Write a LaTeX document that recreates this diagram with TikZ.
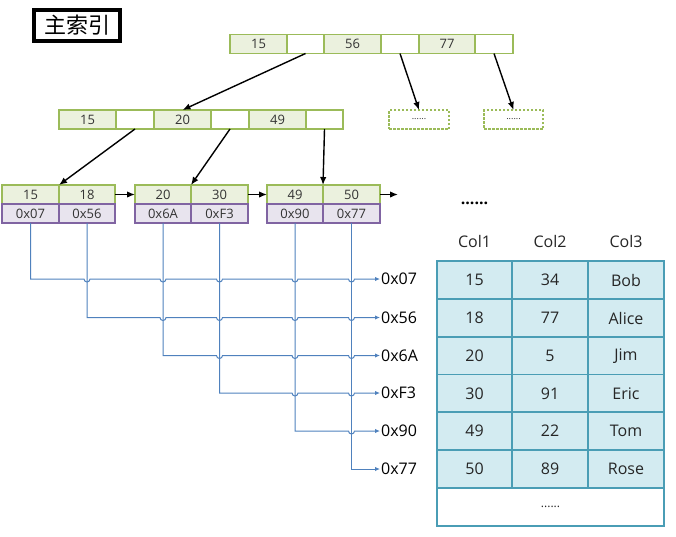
\documentclass[tikz,border=0pt]{standalone}
\usepackage{fontspec}
\setmainfont{Open Sans}
\newfontfamily\cjk{Noto Sans CJK SC}
\usetikzlibrary{arrows.meta}
\definecolor{gborder}{HTML}{9BBB59}
\definecolor{gfill}{HTML}{EBF1DE}
\definecolor{pborder}{HTML}{8064A2}
\definecolor{pfill}{HTML}{E8E4EE}
\definecolor{tfill}{HTML}{D3EBF1}
\definecolor{tborder}{HTML}{4A9DB5}
\definecolor{lblue}{HTML}{4F81BD}
\tikzset{
  cellbase/.style={draw, line width=1.6pt, inner sep=0pt, outer sep=0pt, minimum height=19, font=\fontsize{13}{15}\selectfont, text=black!80},
  kcell/.style={cellbase, draw=gborder, fill=gfill},
  ecell/.style={cellbase, draw=gborder, fill=white},
  acell/.style={cellbase, draw=pborder, fill=pfill},
  dcell/.style={cellbase, draw=gborder, fill=white, dashed, dash pattern=on 2.5pt off 1.5pt, font=\fontsize{9}{10}\selectfont},
  tcell/.style={draw=tborder, line width=1.5pt, fill=tfill, inner sep=0pt, outer sep=0pt, minimum height=38, minimum width=76, font=\fontsize{16}{18}\selectfont, text=black!85},
  blk/.style={-{Latex[length=8pt,width=6.5pt]}, line width=1.4pt, black},
  bl/.style={-{Latex[length=5pt,width=4.5pt]}, line width=1pt, lblue},
  addr/.style={anchor=west, inner sep=1pt, font=\fontsize{16}{18}\selectfont},
  hdr/.style={font=\fontsize{16}{18}\selectfont, text=black!85}
}
\begin{document}
\begin{tikzpicture}[x=1pt,y=-1pt]
\useasboundingbox (0,0) rectangle (676,536);
% title
\node[draw, line width=4pt, minimum width=86, minimum height=31, inner sep=0pt, font=\cjk\fontsize{22}{24}\selectfont] (title) at (77,25.5) {主索引};
% root
\node[kcell, minimum width=57] (r1) at (258.5,44) {15};
\node[ecell, minimum width=37] (r2) at (305.5,44) {};
\node[kcell, minimum width=57] (r3) at (352.5,44) {56};
\node[ecell, minimum width=38] (r4) at (400,44) {};
\node[kcell, minimum width=56] (r5) at (447,44) {77};
\node[ecell, minimum width=38] (r6) at (494,44) {};
% level 2
\node[kcell, minimum width=57] (a1) at (87.5,119.5) {15};
\node[ecell, minimum width=38] (a2) at (135,119.5) {};
\node[kcell, minimum width=57] (a3) at (182.5,119.5) {20};
\node[ecell, minimum width=38] (a4) at (230,119.5) {};
\node[kcell, minimum width=57] (a5) at (277.5,119.5) {49};
\node[ecell, minimum width=37] (a6) at (324.5,119.5) {};
\node[dcell, minimum width=60] (d1) at (419,119.5) {......};
\node[dcell, minimum width=59] (d2) at (513.5,119.5) {......};
% leaves
\node[kcell, minimum width=57] (k11) at (30.5,194.5) {15};
\node[kcell, minimum width=56] (k12) at (87,194.5) {18};
\node[acell, minimum width=57] (v1) at (30.5,213.5) {0x07};
\node[acell, minimum width=56] (v2) at (87,213.5) {0x56};
\node[kcell, minimum width=56] (k21) at (163,194.5) {20};
\node[kcell, minimum width=57] (k22) at (219.5,194.5) {30};
\node[acell, minimum width=56] (v3) at (163,213.5) {0x6A};
\node[acell, minimum width=57] (v4) at (219.5,213.5) {0xF3};
\node[kcell, minimum width=56] (k31) at (295,194.5) {49};
\node[kcell, minimum width=57] (k32) at (351.5,194.5) {50};
\node[acell, minimum width=56] (v5) at (295,213.5) {0x90};
\node[acell, minimum width=57] (v6) at (351.5,213.5) {0x77};
\coordinate (lend) at (398,194.5);
\node[font=\bfseries\fontsize{16}{18}\selectfont] (dots) at (474.5,203) {......};
% tree arrows
\draw[blk] (r2.south) -- (a3.north);
\draw[blk] (r4.south) -- (d1.north);
\draw[blk] (r6.south) -- (d2.north);
\draw[blk] (a2.south) -- (k11.north east);
\draw[blk] (a4.south) -- (k21.north east);
\draw[blk] (a6.south) -- (k31.north east);
\draw[blk] (k12.east) -- (k21.west);
\draw[blk] (k22.east) -- (k31.west);
\draw[blk] (k32.east) -- (lend);
% address labels
\node[addr] (p1) at (380,279) {0x07};
\node[addr] (p2) at (380,317.5) {0x56};
\node[addr] (p3) at (380,355.5) {0x6A};
\node[addr] (p4) at (380,393) {0xF3};
\node[addr] (p5) at (380,431) {0x90};
\node[addr] (p6) at (380,469) {0x77};
% blue connectors with hops
\draw[bl] (v1.south) -- (30.5,279) \foreach \h in {87,163,219.5,295,351.5}{ -- (\h-3,279) arc[start angle=180,end angle=0,radius=3] } -- (p1.west);
\draw[bl] (v2.south) -- (87,317.5) \foreach \h in {163,219.5,295,351.5}{ -- (\h-3,317.5) arc[start angle=180,end angle=0,radius=3] } -- (p2.west);
\draw[bl] (v3.south) -- (163,355.5) \foreach \h in {219.5,295,351.5}{ -- (\h-3,355.5) arc[start angle=180,end angle=0,radius=3] } -- (p3.west);
\draw[bl] (v4.south) -- (219.5,393) \foreach \h in {295,351.5}{ -- (\h-3,393) arc[start angle=180,end angle=0,radius=3] } -- (p4.west);
\draw[bl] (v5.south) -- (295,431) \foreach \h in {351.5}{ -- (\h-3,431) arc[start angle=180,end angle=0,radius=3] } -- (p5.west);
\draw[bl] (v6.south) -- (351.5,469) -- (p6.west);
% table headers
\node[hdr] (h1) at (474.5,241) {Col1};
\node[hdr] (h2) at (550,241) {Col2};
\node[hdr] (h3) at (626,241) {Col3};
% table
\foreach \y/\a/\b/\c [count=\i] in {280/15/34/Bob, 318/18/77/Alice, 356/20/5/Jim, 393.5/30/91/Eric, 431/49/22/Tom, 469/50/89/Rose}{
  \node[tcell, minimum width=75] (t\i a) at (474.5,\y) {\a};
  \node[tcell] (t\i b) at (550,\y) {\b};
  \node[tcell] (t\i c) at (626,\y) {\c};
}
\node[tcell, fill=white, minimum width=227, font=\fontsize{12}{14}\selectfont] (tlast) at (550.5,507) {......};
\end{tikzpicture}
\end{document}
